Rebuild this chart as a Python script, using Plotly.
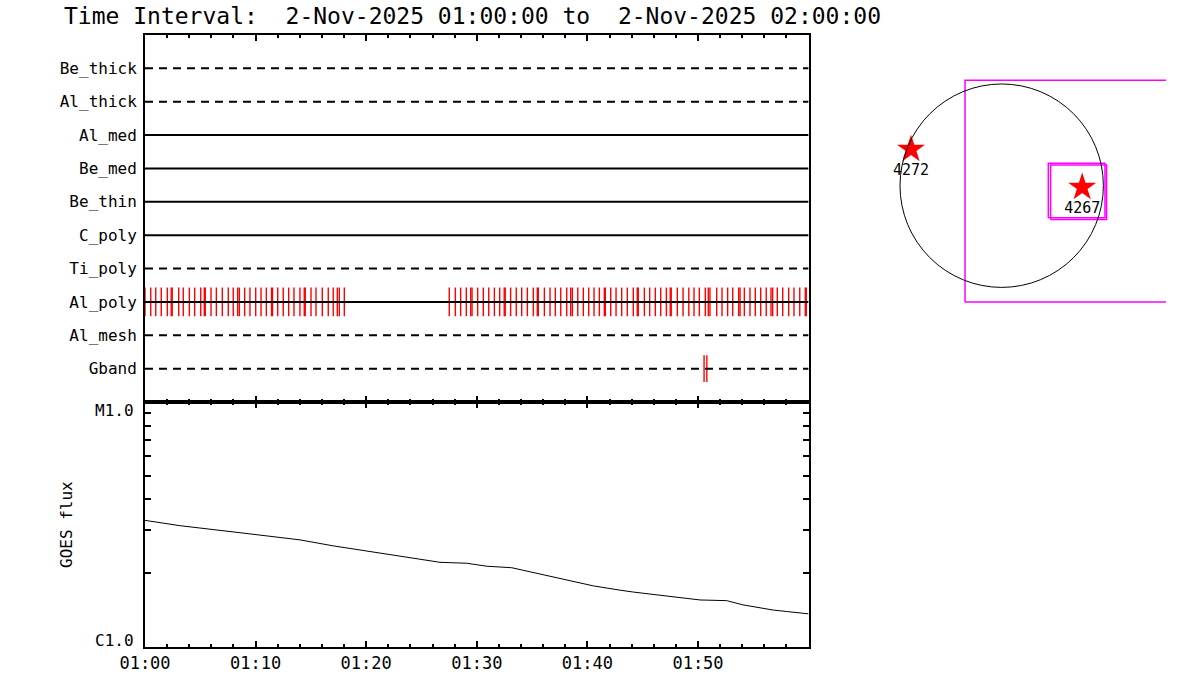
import math
import plotly.graph_objects as go

# ---------------- data ----------------
title_text = "Time Interval:\u00a0 2-Nov-2025 01:00:00 to\u00a0 2-Nov-2025 02:00:00"

# detector rows, top to bottom
row_names = ["Be_thick", "Al_thick", "Al_med", "Be_med", "Be_thin",
             "C_poly", "Ti_poly", "Al_poly", "Al_mesh", "Gband"]
dashed_rows = ["Be_thick", "Al_thick", "Ti_poly", "Al_mesh", "Gband"]

# event times (minutes after 01:00) marked on Al_poly
alpoly_times = [0.0, 0.52, 0.97, 1.47, 2.02, 2.37, 2.46, 3.05, 3.46, 4.01, 4.49,
                5.04, 5.36, 5.45, 5.97, 6.45, 6.99, 7.53, 7.98, 8.38, 8.53, 9.01,
                9.49, 10.01, 10.49, 10.97, 11.44, 11.53, 12.00, 12.50, 12.99,
                13.47, 14.01, 14.40, 14.49, 15.01, 15.46, 16.03, 16.57, 17.02,
                17.39, 17.57, 18.02,
                27.51, 28.06, 28.54, 29.05, 29.45, 29.57, 30.08, 30.59, 31.08,
                31.59, 32.07, 32.48, 32.57, 33.06, 33.57, 34.06, 34.57, 35.11,
                35.47, 35.56, 36.11, 36.62, 37.10, 37.59, 38.13, 38.49, 38.64,
                39.13, 39.63, 40.12, 40.60, 41.08, 41.53, 41.62, 42.11, 42.59,
                43.10, 43.61, 44.15, 44.51, 44.60, 45.15, 45.63, 46.14, 46.63,
                47.14, 47.49, 47.58, 48.13, 48.65, 49.17, 49.64, 50.12, 50.66,
                50.93, 51.08, 51.69, 52.17, 52.68, 53.14, 53.68, 53.80, 54.19,
                54.70, 55.18, 55.67, 56.17, 56.60, 56.75, 57.17, 57.66, 58.20,
                58.68, 59.20, 59.70, 59.79]
gband_times = [50.55, 50.80]

# GOES flux curve
goes_time = [0.0, 3.16, 8.59, 14.01, 17.02, 20.34, 23.06, 26.67, 29.09, 30.9,
             33.16, 35.11, 38.13, 40.53, 42.95, 44.15, 50.18, 52.59, 54.07,
             56.78, 58.02, 60.0]
goes_flux = [3.28e-6, 3.12e-6, 2.92e-6, 2.73e-6, 2.58e-6, 2.45e-6, 2.34e-6,
             2.21e-6, 2.19e-6, 2.13e-6, 2.10e-6, 2.01e-6, 1.87e-6, 1.77e-6,
             1.70e-6, 1.67e-6, 1.55e-6, 1.54e-6, 1.48e-6, 1.41e-6, 1.39e-6,
             1.36e-6]

time_tickvals = [0, 10, 20, 30, 40, 50]
time_ticktext = ["01:00", "01:10", "01:20", "01:30", "01:40", "01:50"]
goes_tickvals = [1e-6, 1e-5]
goes_ticktext = ["C1.0", "M1.0"]

# solar disk panel (arcsec)
sun_radius = 960
ar_numbers = ["4272", "4267"]
ar_x = [-856, 760]
ar_y = [343, -15]
fov_boxes = [  # x0, x1, y0, y1
    (-346, 2600, -1098, 995),
    (440, 975, -302, 211),
    (462, 990, -318, 195),
]

# ---------------- figure ----------------
FONT = "DejaVu Sans Mono"
W, H = 1200, 700
fig = go.Figure()

n = len(row_names)
row_y = {name: n - i for i, name in enumerate(row_names)}

# red event markers
def vlines(times, yc, half):
    xs, ys = [], []
    for t in times:
        xs += [t, t, None]
        ys += [yc - half, yc + half, None]
    return xs, ys

xs, ys = vlines(alpoly_times, row_y["Al_poly"], 0.43)
fig.add_trace(go.Scatter(x=xs, y=ys, mode="lines", line=dict(color="#ff0000", width=1.4),
                         xaxis="x", yaxis="y", hoverinfo="skip"))
xs, ys = vlines(gband_times, row_y["Gband"], 0.40)
fig.add_trace(go.Scatter(x=xs, y=ys, mode="lines", line=dict(color="#ff0000", width=1.4),
                         xaxis="x", yaxis="y", hoverinfo="skip"))

# row baselines
for name in row_names:
    fig.add_trace(go.Scatter(
        x=[0, 60], y=[row_y[name]] * 2, mode="lines",
        line=dict(color="black", width=2,
                  dash="8px,6px" if name in dashed_rows else "solid"),
        xaxis="x", yaxis="y", hoverinfo="skip"))

# GOES
fig.add_trace(go.Scatter(x=goes_time, y=goes_flux, mode="lines",
                         line=dict(color="black", width=1), xaxis="x2", yaxis="y2"))

# sun panel boxes
for (x0, x1, y0, y1) in fov_boxes:
    fig.add_trace(go.Scatter(x=[x0, x1, x1, x0, x0], y=[y0, y0, y1, y1, y0],
                             mode="lines", line=dict(color="#ff00ff", width=1.5),
                             xaxis="x3", yaxis="y3", hoverinfo="skip"))
fig.add_trace(go.Scatter(x=ar_x, y=ar_y, mode="markers+text", text=ar_numbers,
                         textposition="bottom center",
                         textfont=dict(family=FONT, size=15, color="black"),
                         marker=dict(symbol="star", size=21, color="#ff0000",
                                     line=dict(width=0)),
                         xaxis="x3", yaxis="y3", cliponaxis=False))

fig.add_shape(type="circle", xref="x3", yref="y3", x0=-sun_radius, x1=sun_radius,
              y0=-sun_radius, y1=sun_radius, line=dict(color="black", width=1))

px = lambda p: p / W
py = lambda p: 1 - p / H

x_dom = [px(145), px(808.6)]
axis_common = dict(showline=True, linecolor="black", linewidth=2,
                   showgrid=False, zeroline=False, automargin=False)

# GOES class labels (IDL style: nudged inside the axis ends)
goes_label_annots = []
for val, txt in zip(goes_tickvals, goes_ticktext):
    shift = 6 if val == min(goes_tickvals) else -8
    goes_label_annots.append(dict(
        text=txt, x=px(136), xref="paper", y=math.log10(val), yref="y2",
        xanchor="right", yanchor="middle", yshift=shift, showarrow=False,
        font=dict(size=16, family=FONT)))

fig.update_layout(
    width=W, height=H, margin=dict(l=0, r=0, t=0, b=0, pad=0, autoexpand=False),
    paper_bgcolor="white", plot_bgcolor="white", showlegend=False,
    font=dict(family=FONT, color="black"),
    xaxis=dict(domain=x_dom, range=[0, 60], anchor="y", showticklabels=False,
               tickmode="array", tickvals=[0, 10, 20, 30, 40, 50, 60],
               ticks="inside", ticklen=6, tickwidth=2, tickcolor="black",
               minor=dict(ticks="inside", dtick=2, tick0=0, ticklen=3,
                          tickwidth=2, tickcolor="black"),
               mirror="ticks", **axis_common),
    yaxis=dict(domain=[py(402), py(35)], range=[0, n + 1], anchor="x",
               tickmode="array", tickvals=[row_y[r] for r in row_names],
               ticktext=row_names, ticks="", ticklabelstandoff=3,
               tickfont=dict(size=16), mirror=True, **axis_common),
    xaxis2=dict(domain=x_dom, range=[0, 60], anchor="y2", matches="x",
                tickmode="array", tickvals=time_tickvals, ticktext=time_ticktext,
                ticks="inside", ticklen=6, tickwidth=2, tickcolor="black",
                minor=dict(ticks="inside", dtick=2, tick0=0, ticklen=3,
                           tickwidth=2, tickcolor="black"),
                tickfont=dict(size=17), mirror="ticks", **axis_common),
    yaxis2=dict(domain=[py(646.5), py(402)], type="log", range=[-6, -5], anchor="x2",
                tickmode="array", tickvals=goes_tickvals, showticklabels=False,
                ticks="inside", ticklen=0,
                minor=dict(ticks="inside", ticklen=6, tickwidth=1.5, tickcolor="black",
                           tickvals=[2e-6, 3e-6, 4e-6, 5e-6, 6e-6, 7e-6, 8e-6, 9e-6]),
                mirror="ticks", **axis_common),
    xaxis3=dict(domain=[px(880), px(1166)], range=[-1148.8, 1551], anchor="y3",
                visible=False, automargin=False),
    yaxis3=dict(domain=[py(310), py(70)], range=[-1173.3, 1092], anchor="x3",
                visible=False, automargin=False),
    annotations=[
        dict(text=title_text, x=px(62), y=py(16), xref="paper", yref="paper",
             xanchor="left", yanchor="middle", showarrow=False,
             font=dict(size=23, family=FONT)),
        dict(text="GOES flux", x=px(66), y=py(525), xref="paper", yref="paper",
             xanchor="center", yanchor="middle", textangle=-90, showarrow=False,
             font=dict(size=16, family=FONT)),
    ] + goes_label_annots,
)

fig.write_html("out.html",
               config={"displayModeBar": False},
               post_script="document.body.style.margin='0px';"
                           "document.body.style.overflow='hidden';")
